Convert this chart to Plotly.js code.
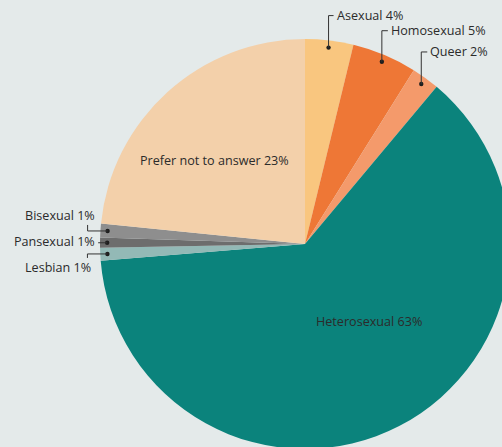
<!DOCTYPE html>
<html>
<head>
<meta charset="utf-8">
<script src="https://cdn.plot.ly/plotly-3.0.1.min.js"></script>
<style>
  html, body { margin: 0; padding: 0; background: #e4eaea; overflow: hidden; }
  #chart { width: 520px; height: 460px; }
</style>
</head>
<body>
<div id="chart"></div>
<script>
// ---- data ----
const categories = ['Asexual', 'Homosexual', 'Queer', 'Heterosexual', 'Lesbian', 'Pansexual', 'Bisexual', 'Prefer not to answer'];
const values = [3.8, 5.1, 2.2, 62.6, 1.0, 0.8, 1.1, 23.4];
const shownPercent = [4, 5, 2, 63, 1, 1, 1, 23];
const colors = ['#f9c67f', '#ee7736', '#f49a6b', '#0b837c', '#93b9b6', '#6d6d6d', '#8e8e8e', '#f3d0aa'];

// ---- label layout (pixels) ----
const labelStyle = [
  {kind: 'top', rise: 32, run: 5},
  {kind: 'top', rise: 31, run: 6},
  {kind: 'top', rise: 32, run: 6},
  {kind: 'inside', rf: 0.49, dAng: -12},
  {kind: 'left-down', run: 20, rise: 4},
  {kind: 'left', run: 9},
  {kind: 'left-up', run: 20, rise: 6},
  {kind: 'inside', rf: 0.60, dAng: -5}
];

const W = 520, H = 460;
const M = {l: 100, r: 10, t: 39, b: 11};
const PW = W - M.l - M.r, PH = H - M.t - M.b;
const cx = M.l + PW / 2, cy = M.t + PH / 2, R = Math.min(PW, PH) / 2;
const xp = px => (px - M.l) / PW;
const yp = py => 1 - (py - M.t) / PH;

const total = values.reduce((a, b) => a + b, 0);
const shapes = [], annotations = [];
const font = {family: 'Open Sans, sans-serif', size: 12.6, color: '#2b2b2b'};
const lineStyle = {color: '#333', width: 1};
let cum = 0;
values.forEach((v, i) => {
  const mid = (cum + v / 2) / total;
  cum += v;
  const st = labelStyle[i];
  const text = categories[i] + ' ' + shownPercent[i] + '%';
  if (st.kind === 'inside') {
    const a = (mid * 360 + st.dAng) * Math.PI / 180;
    const x = cx + Math.sin(a) * R * st.rf, y = cy - Math.cos(a) * R * st.rf;
    annotations.push({xref: 'paper', yref: 'paper', x: xp(x), y: yp(y), text, showarrow: false,
      xanchor: 'center', yanchor: 'middle', font});
    return;
  }
  const a = mid * 2 * Math.PI;
  const rd = R * 0.965;
  const dx = cx + Math.sin(a) * rd, dy = cy - Math.cos(a) * rd;
  shapes.push({type: 'circle', xref: 'paper', yref: 'paper',
    x0: xp(dx - 2.2), x1: xp(dx + 2.2), y0: yp(dy - 2.2), y1: yp(dy + 2.2),
    fillcolor: '#1e1e1e', line: {width: 0}});
  const seg = (x0, y0, x1, y1) => shapes.push({type: 'line', xref: 'paper', yref: 'paper',
    x0: xp(x0), y0: yp(y0), x1: xp(x1), y1: yp(y1), line: lineStyle});
  if (st.kind === 'top') {
    const ey = dy - st.rise, ex = dx + st.run;
    seg(dx, dy, dx, ey); seg(dx, ey, ex, ey);
    annotations.push({xref: 'paper', yref: 'paper', x: xp(ex + 1), y: yp(ey), text, showarrow: false,
      xanchor: 'left', yanchor: 'middle', font});
  } else if (st.kind === 'left') {
    const ex = dx - st.run;
    seg(dx, dy, ex, dy);
    annotations.push({xref: 'paper', yref: 'paper', x: xp(ex - 1), y: yp(dy - 1), text, showarrow: false,
      xanchor: 'right', yanchor: 'middle', font});
  } else if (st.kind === 'left-up') {
    const ex = dx - st.run, ey = dy - st.rise;
    seg(dx, dy, ex, dy); seg(ex, dy, ex, ey);
    annotations.push({xref: 'paper', yref: 'paper', x: xp(ex + 9), y: yp(ey + 1), text, showarrow: false,
      xanchor: 'right', yanchor: 'bottom', font});
  } else if (st.kind === 'left-down') {
    const ex = dx - st.run, ey = dy + st.rise;
    seg(dx, dy, ex, dy); seg(ex, dy, ex, ey);
    annotations.push({xref: 'paper', yref: 'paper', x: xp(ex + 6), y: yp(ey - 1), text, showarrow: false,
      xanchor: 'right', yanchor: 'top', font});
  }
});

const trace = {
  type: 'pie',
  labels: categories,
  values: values,
  sort: false,
  direction: 'clockwise',
  rotation: 0,
  marker: {colors: colors, line: {width: 0}},
  textinfo: 'none',
  hoverinfo: 'label+percent',
  showlegend: false
};

const layout = {
  width: W, height: H,
  margin: M,
  paper_bgcolor: '#e4eaea',
  plot_bgcolor: '#e4eaea',
  showlegend: false,
  font: font,
  shapes: shapes,
  annotations: annotations
};

Plotly.newPlot('chart', [trace], layout, {displayModeBar: false, staticPlot: true});
</script>
</body>
</html>
